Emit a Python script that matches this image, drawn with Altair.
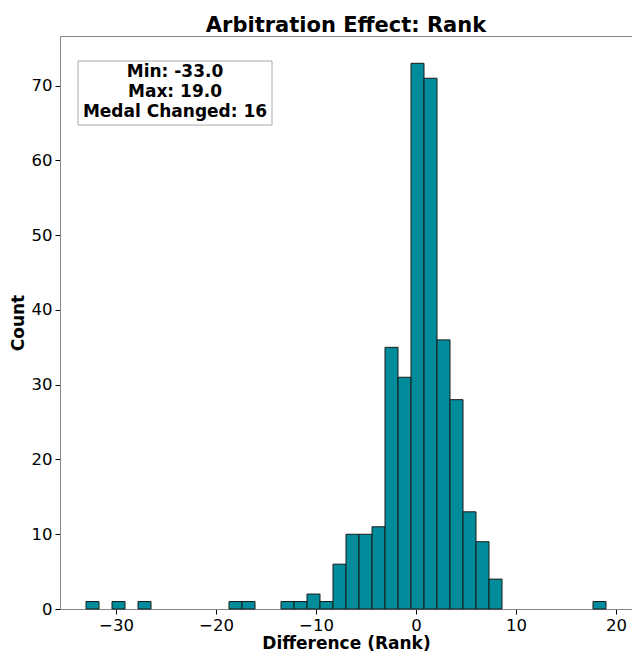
import altair as alt
import pandas as pd

bin_width = 1.3
bin_min = -33.0
counts = [1, 0, 1, 0, 1, 0, 0, 0, 0, 0,
          0, 1, 1, 0, 0, 1, 1, 2, 1, 6,
          10, 10, 11, 35, 31, 73, 71, 36, 28, 13,
          9, 4, 0, 0, 0, 0, 0, 0, 0, 1]
bin_start = [round(bin_min + i * bin_width, 2) for i in range(len(counts))]
bin_end = [round(s + bin_width, 2) for s in bin_start]
x_ticks = [-30, -20, -10, 0, 10, 20]
y_ticks = [0, 10, 20, 30, 40, 50, 60, 70]
box_lines = ["Min: -33.0", "Max: 19.0", "Medal Changed: 16"]

df = pd.DataFrame({"start": bin_start, "end": bin_end, "count": counts})
df = df[df["count"] > 0]

FONT = "DejaVu Sans"
GRAY = "#888888"

bars = alt.Chart(df).mark_bar(
    color="#008C9A", stroke="#1a1a1a", strokeWidth=1
).encode(
    x=alt.X("start:Q",
            scale=alt.Scale(domain=[-35.6, 21.6], nice=False, zero=False),
            axis=alt.Axis(values=x_ticks, title="Difference (Rank)", grid=False,
                          labelFontSize=16.5, titleFontSize=17, titleFontWeight="bold",
                          labelFont=FONT, titleFont=FONT, labelColor="black", titleColor="black",
                          domainColor=GRAY, tickColor="black", tickSize=5,
                          labelPadding=3, titlePadding=2, labelFlush=False)),
    x2="end:Q",
    y=alt.Y("count:Q",
            scale=alt.Scale(domain=[0, 76.65], nice=False),
            axis=alt.Axis(values=y_ticks, title="Count", grid=False,
                          labelFontSize=16.5, titleFontSize=17, titleFontWeight="bold",
                          labelFont=FONT, titleFont=FONT, labelColor="black", titleColor="black",
                          domainColor=GRAY, tickColor="black", tickSize=5,
                          labelPadding=3, titlePadding=4)),
    y2=alt.datum(0),
)

box = alt.Chart(pd.DataFrame({"a": [0]})).mark_rect(
    fill="white", stroke="#aaaaaa", strokeWidth=1
).encode(x=alt.value(18), x2=alt.value(212), y=alt.value(25), y2=alt.value(89))

txt_df = pd.DataFrame({"line": box_lines, "i": list(range(len(box_lines)))})
txt = alt.Chart(txt_df).mark_text(
    font=FONT, fontSize=17, fontWeight="bold", color="black", align="center", baseline="middle"
).encode(
    x=alt.value(115),
    y=alt.Y("i:Q", scale=alt.Scale(domain=[0, 2], range=[36, 75.5], nice=False, zero=False), axis=None),
    text="line:N",
)

chart = alt.layer(bars, box, txt).resolve_scale(y="independent").properties(
    width=572, height=573,
    title=alt.Title("Arbitration Effect: Rank", font=FONT, fontSize=21, fontWeight="bold",
                    color="black", offset=0),
    autosize=alt.AutoSizeParams(type="none"),
    padding={"left": 60, "top": 36, "right": 0, "bottom": 42},
).configure_view(stroke=GRAY, strokeWidth=1)

chart.save("out.html", embed_options={"renderer": "svg", "actions": False})
